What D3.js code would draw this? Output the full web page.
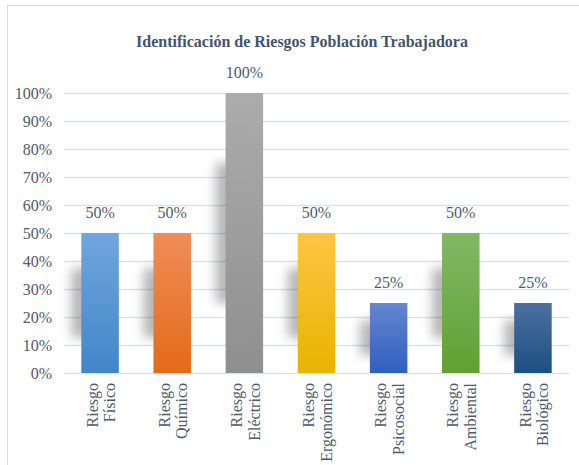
<!DOCTYPE html>
<html>
<head>
<meta charset="utf-8">
<script src="https://cdn.jsdelivr.net/npm/d3@7"></script>
<style>
  body { margin: 0; background: #fff; }
</style>
</head>
<body>
<div id="chart"></div>
<script>
// chart data
const categories = [
  ['Riesgo', 'Físico'],
  ['Riesgo', 'Químico'],
  ['Riesgo', 'Eléctrico'],
  ['Riesgo', 'Ergonómico'],
  ['Riesgo', 'Psicosocial'],
  ['Riesgo', 'Ambiental'],
  ['Riesgo', 'Biológico'],
];
const values = [0.5, 0.5, 1.0, 0.5, 0.25, 0.5, 0.25];
const colorsTop = ['#70a6dd', '#f08d58', '#acacac', '#ffc544', '#6586d0', '#82b865', '#4c709f'];
const colorsBottom = ['#4286c8', '#e46a18', '#8f8f8f', '#e8b300', '#2f5fbe', '#60a032', '#1b5083'];
const yTicks = [0, 0.1, 0.2, 0.3, 0.4, 0.5, 0.6, 0.7, 0.8, 0.9, 1.0];
const title = 'Identificación de Riesgos Población Trabajadora';

const serif = 'Liberation Serif';
const width = 579;
const height = 465;
const margin = { top: 93, right: 10, bottom: 92, left: 64 };

const svg = d3.select('#chart').append('svg')
  .attr('width', width)
  .attr('height', height);

const defs = svg.append('defs');
defs.append('filter')
  .attr('id', 'blur')
  .attr('x', '-100%').attr('y', '-100%')
  .attr('width', '300%').attr('height', '300%')
  .append('feGaussianBlur')
  .attr('stdDeviation', 5.5);

values.forEach((v, i) => {
  const g = defs.append('linearGradient')
    .attr('id', `grad${i}`)
    .attr('x1', 0).attr('y1', 0).attr('x2', 0).attr('y2', 1);
  g.append('stop').attr('offset', '0%').attr('stop-color', colorsTop[i]);
  g.append('stop').attr('offset', '100%').attr('stop-color', colorsBottom[i]);
});

// chart frame
svg.append('rect')
  .attr('x', 7.5).attr('y', 5.5)
  .attr('width', width).attr('height', height)
  .attr('fill', 'none')
  .attr('stroke', '#d9d9d9');

svg.append('text')
  .attr('x', 302)
  .attr('y', 47)
  .attr('text-anchor', 'middle')
  .style('font-family', serif)
  .attr('font-size', 16)
  .attr('font-weight', 'bold')
  .attr('fill', '#44546a')
  .text(title);

const x = d3.scaleBand()
  .domain(d3.range(values.length))
  .range([margin.left, width - margin.right])
  .paddingInner(0.48)
  .paddingOuter(0.24);

const y = d3.scaleLinear()
  .domain([0, 1])
  .range([height - margin.bottom, margin.top]);

// gridlines + y labels
const yAxis = svg.append('g')
  .attr('transform', `translate(${margin.left},0)`)
  .call(d3.axisLeft(y)
    .tickValues(yTicks)
    .tickFormat(d3.format('.0%'))
    .tickSize(-(width - margin.left - margin.right))
    .tickPadding(12));
yAxis.select('.domain').remove();
yAxis.selectAll('.tick line')
  .attr('stroke', '#dde1e7')
  .attr('stroke-width', 1.6);
yAxis.selectAll('.tick text')
  .style('font-family', serif)
  .attr('font-size', 16)
  .attr('fill', '#4f5a6a');

// bar shadows
svg.append('g')
  .selectAll('rect')
  .data(values)
  .join('rect')
  .attr('x', (d, i) => x(i) - 10)
  .attr('y', (d) => (y(d) + y(0)) / 2 - (y(0) - y(d)) / 4)
  .attr('width', x.bandwidth())
  .attr('height', (d) => (y(0) - y(d)) / 2)
  .attr('fill', '#000')
  .attr('opacity', 0.28)
  .attr('filter', 'url(#blur)');

// bars
svg.append('g')
  .selectAll('rect')
  .data(values)
  .join('rect')
  .attr('x', (d, i) => x(i))
  .attr('y', (d) => y(d))
  .attr('width', x.bandwidth())
  .attr('height', (d) => y(0) - y(d))
  .attr('fill', (d, i) => `url(#grad${i})`);

// value labels
svg.append('g')
  .selectAll('text')
  .data(values)
  .join('text')
  .style('font-family', serif)
  .attr('x', (d, i) => x(i) + x.bandwidth() / 2)
  .attr('y', (d) => y(d) - 15)
  .attr('text-anchor', 'middle')
  .attr('font-size', 16)
  .attr('fill', '#4f5a6a')
  .text((d) => d3.format('.0%')(d));

// category labels, rotated
const labels = svg.append('g')
  .selectAll('text')
  .data(categories)
  .join('text')
  .style('font-family', serif)
  .attr('transform', (d, i) => `translate(${x(i) + x.bandwidth() / 2},${y(0) + 10}) rotate(-90)`)
  .attr('text-anchor', 'end')
  .attr('font-size', 16)
  .attr('fill', '#4f5a6a');
labels.selectAll('tspan')
  .data((d) => d)
  .join('tspan')
  .attr('x', 0)
  .attr('dy', (d, j) => (j === 0 ? '-0.15em' : '1.1em'))
  .text((d) => d);
</script>
</body>
</html>
